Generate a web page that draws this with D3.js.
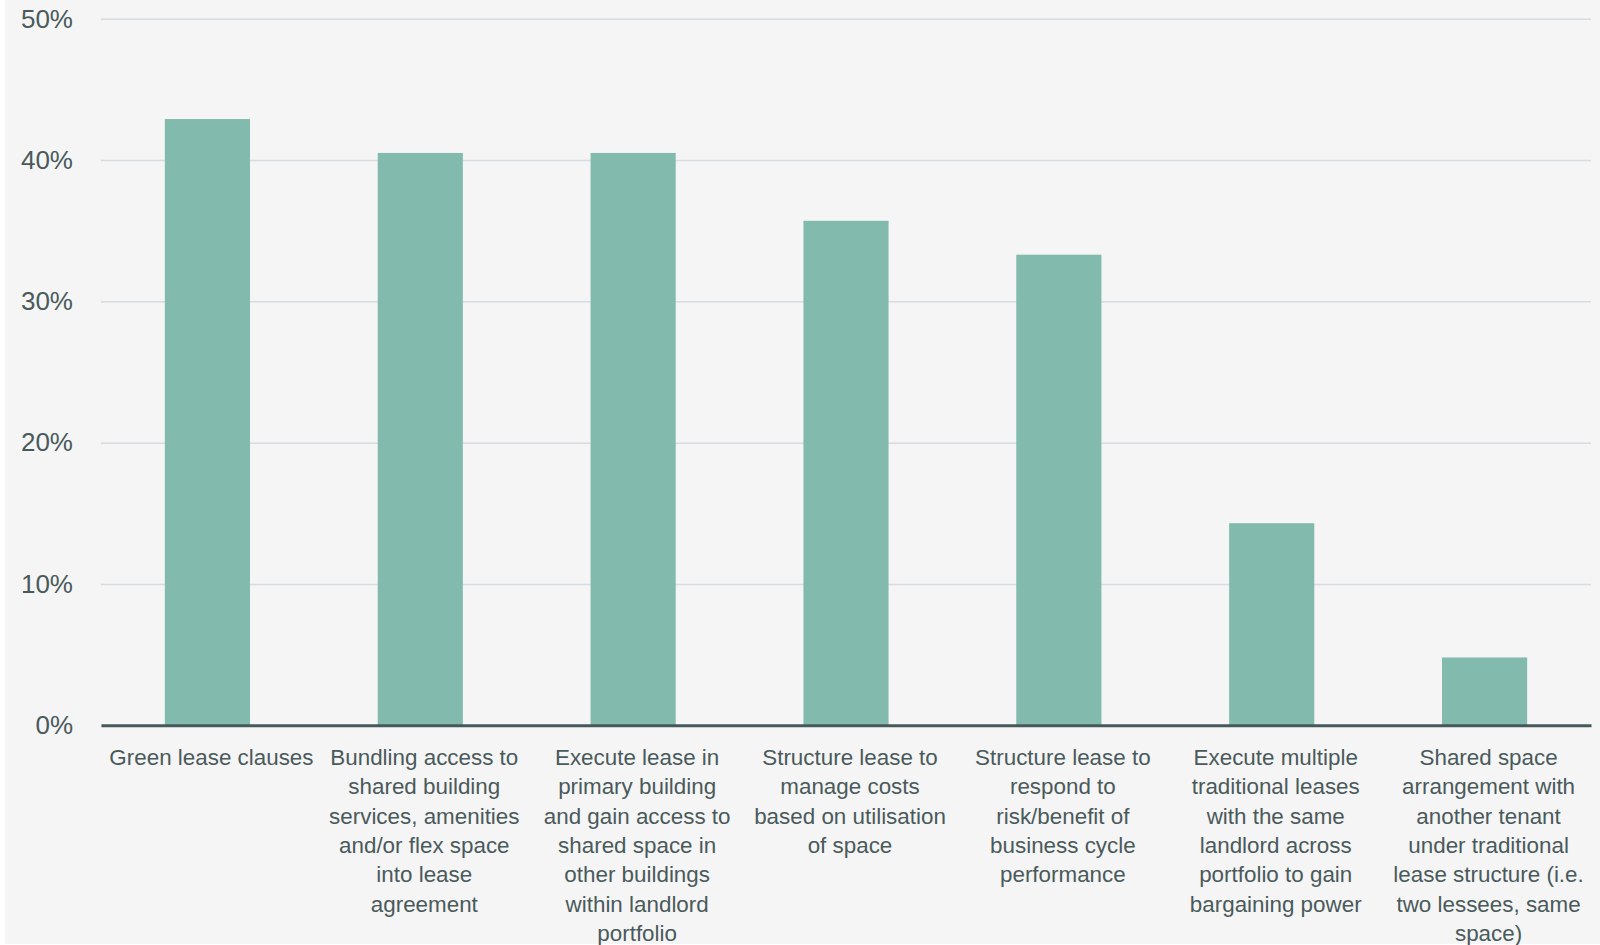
<!DOCTYPE html>
<html>
<head>
<meta charset="utf-8">
<script src="https://cdn.jsdelivr.net/npm/d3@7"></script>
<style>
  html, body { margin: 0; padding: 0; background: #ffffff; }
  svg { display: block; }
</style>
</head>
<body>
<div id="chart"></div>
<script>
// data
let categories = [
    "Green lease clauses",
    "Bundling access to shared building services, amenities and/or flex space into lease agreement",
    "Execute lease in primary building and gain access to shared space in other buildings within landlord portfolio",
    "Structure lease to manage costs based on utilisation of space",
    "Structure lease to respond to risk/benefit of business cycle performance",
    "Execute multiple traditional leases with the same landlord across portfolio to gain bargaining power",
    "Shared space arrangement with another tenant under traditional lease structure (i.e. two lessees, same space)"
]
let labelLines = [
    ["Green lease clauses"],
    ["Bundling access to", "shared building", "services, amenities", "and/or flex space", "into lease", "agreement"],
    ["Execute lease in", "primary building", "and gain access to", "shared space in", "other buildings", "within landlord", "portfolio"],
    ["Structure lease to", "manage costs", "based on utilisation", "of space"],
    ["Structure lease to", "respond to", "risk/benefit of", "business cycle", "performance"],
    ["Execute multiple", "traditional leases", "with the same", "landlord across", "portfolio to gain", "bargaining power"],
    ["Shared space", "arrangement with", "another tenant", "under traditional", "lease structure (i.e.", "two lessees, same", "space)"]
]
let values = [42.9, 40.5, 40.5, 35.7, 33.3, 14.3, 4.8]
let yTicks = [0, 10, 20, 30, 40, 50]

let width = 1600
let height = 945
let plotLeft = 101, plotRight = 1591, plotTop = 18.7, plotBottom = 725.3

let svg = d3.select("#chart")
            .append("svg")
            .attr("width", width)
            .attr("height", height)

svg.append("rect")
    .attr("x", 5).attr("y", 0)
    .attr("width", width - 5).attr("height", height - 1)
    .attr("fill", "#f5f5f5")

let xScale = d3.scaleBand()
    .domain(categories)
    .range([plotLeft, plotRight])
    .paddingInner(0.6)
    .paddingOuter(0.3)

let yScale = d3.scaleLinear()
    .domain([0, 50])
    .range([plotBottom, plotTop])

// gridlines + y labels
let yAxis = d3.axisLeft(yScale)
    .tickValues(yTicks)
    .tickSize(-(plotRight - plotLeft))
    .tickPadding(28)
    .tickFormat(d => d + "%")

let gy = svg.append("g")
    .attr("transform", `translate(${plotLeft},0)`)
    .call(yAxis)
gy.select(".domain").remove()
gy.selectAll(".tick line")
    .attr("stroke", "#d6dcdf")
    .attr("stroke-width", 1.5)
gy.selectAll(".tick text")
    .attr("fill", "#4a5a5b")
    .style("font-family", "'Liberation Sans', Arial, sans-serif")
    .style("font-size", "26px")

// bars
svg.selectAll("rect.bar")
    .data(values)
    .enter()
    .append("rect")
    .attr("class", "bar")
    .attr("x", (d, i) => xScale(categories[i]))
    .attr("y", d => yScale(d))
    .attr("width", xScale.bandwidth())
    .attr("height", d => yScale(0) - yScale(d))
    .attr("fill", "#82bbad")

// baseline
let xAxis = d3.axisBottom(xScale).tickSize(0).tickFormat("")
let gx = svg.append("g")
    .attr("transform", `translate(0,${plotBottom})`)
    .call(xAxis)
gx.select(".domain")
    .attr("stroke", "#46585a")
    .attr("stroke-width", 3)

// wrapped category labels (sit a touch right of bar centre, like the original)
let labels = svg.selectAll("text.cat")
    .data(categories)
    .enter()
    .append("text")
    .attr("class", "cat")
    .attr("text-anchor", "middle")
    .attr("fill", "#4a5a5b")
    .style("font-family", "'Liberation Sans', Arial, sans-serif")
    .style("font-size", "22.4px")
    .attr("transform", d => `translate(${xScale(d) + xScale.bandwidth() / 2 + 4}, 765)`)

labels.each(function(d, i){
    let t = d3.select(this)
    labelLines[i].forEach(function(line, j){
        t.append("tspan")
            .attr("x", 0)
            .attr("y", j * 29.3)
            .text(line)
    })
})
</script>
</body>
</html>
